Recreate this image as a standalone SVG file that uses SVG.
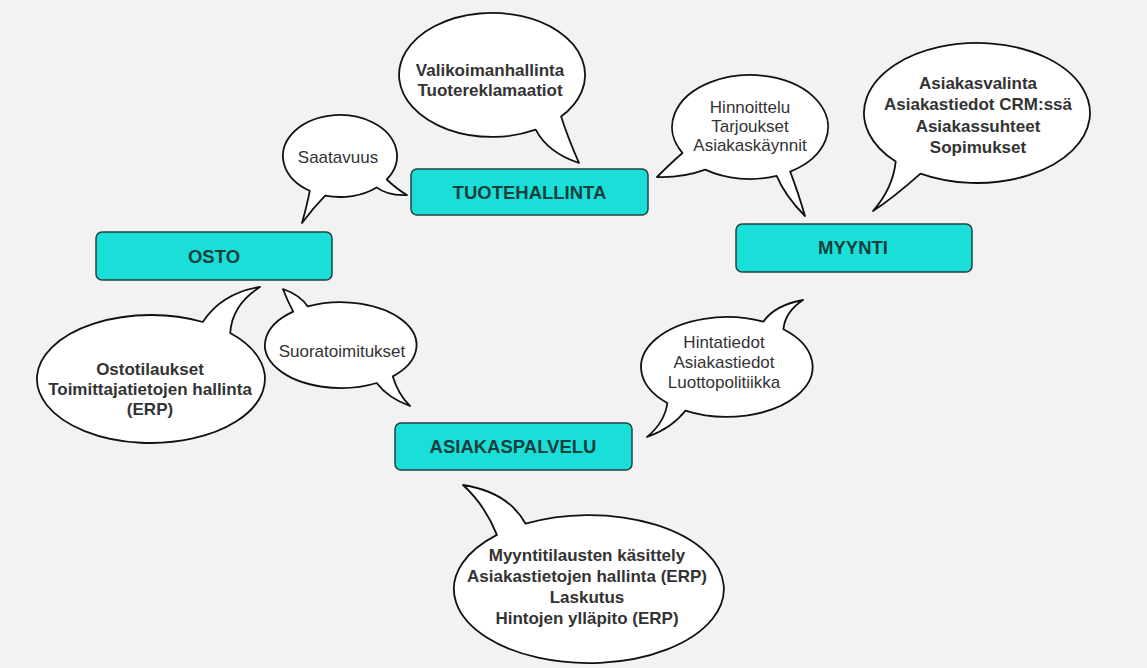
<svg xmlns="http://www.w3.org/2000/svg" width="1147" height="668" viewBox="0 0 1147 668">
<style>
.bg{fill:#f2f2f2}
.box{fill:#1adfd8;stroke:#234040;stroke-width:1.5}
.bt{font-family:"Liberation Sans",Arial,sans-serif;font-size:18.5px;font-weight:bold;fill:#163f3e;text-anchor:middle}
.bub{fill:#ffffff;stroke:#111111;stroke-width:1.8;stroke-linejoin:round}
.t{font-family:"Liberation Sans",Arial,sans-serif;font-size:17px;fill:#333333;text-anchor:middle}
.b{font-weight:bold}
</style>
<rect class="bg" x="0" y="0" width="1147" height="668"/>

<g id="bubble-valikoima">
<path class="bub" d="M561.1,116.5 Q568,138 579,163 Q548,153 535.7,129.7 A93,62 0 1 1 561.1,116.5 Z"/>
<text class="t b" x="490" y="76">Valikoimanhallinta</text>
<text class="t b" x="490" y="96">Tuotereklamaatiot</text>
</g>

<g id="bubble-hinnoittelu">
<path class="bub" d="M790.2,171.6 Q798,192 805,216 Q785,196 776.7,175.9 A78,52 0 0 1 705.3,169.6 Q682,178 657,177 Q672,162 682.5,153 A78,52 0 1 1 790.2,171.6 Z"/>
<text class="t" x="750" y="113">Hinnoittelu</text>
<text class="t" x="750" y="132">Tarjoukset</text>
<text class="t" x="750" y="151">Asiakaskäynnit</text>
</g>

<g id="bubble-asiakasvalinta">
<path class="bub" d="M920.5,173.6 Q893,198 873,211 Q893,188 895.7,161.6 A113,70 0 1 1 920.5,173.6 Z"/>
<text class="t b" x="978" y="89">Asiakasvalinta</text>
<text class="t b" x="978" y="110">Asiakastiedot CRM:ssä</text>
<text class="t b" x="978" y="132">Asiakassuhteet</text>
<text class="t b" x="978" y="153">Sopimukset</text>
</g>

<g id="bubble-saatavuus">
<path class="bub" d="M386.7,179.5 Q398,190 407,195 Q388,196 376.6,187.4 A57,41 0 0 1 325.2,195.6 Q313,208 302,223 Q307,205 309.8,190.8 A57,41 0 1 1 386.7,179.5 Z"/>
<text class="t" x="338" y="163">Saatavuus</text>
</g>

<g id="bubble-ostotilaukset">
<path class="bub" d="M202.8,322 Q222,293 260,287 Q232,305 230.2,333 A114,64 0 1 1 202.8,322 Z"/>
<text class="t b" x="150" y="375">Ostotilaukset</text>
<text class="t b" x="150" y="395">Toimittajatietojen hallinta</text>
<text class="t b" x="150" y="415">(ERP)</text>
</g>

<g id="bubble-suoratoimitukset">
<path class="bub" d="M293.2,311.6 Q287,300 283,289 Q300,295 307.7,306.4 A76,43 0 0 1 392.8,376.4 Q398,394 410,406 Q388,398 376.7,383 A76,43 0 0 1 293.2,311.6 Z"/>
<text class="t" x="342" y="357">Suoratoimitukset</text>
</g>

<g id="bubble-hintatiedot">
<path class="bub" d="M763.3,321.7 Q775,305 803,300 Q785,312 783.4,329.3 A86,50 0 0 1 685.3,410.7 Q672,428 647,437 Q665,422 667.3,403 A86,50 0 0 1 763.3,321.7 Z"/>
<text class="t" x="724" y="348">Hintatiedot</text>
<text class="t" x="724" y="368">Asiakastiedot</text>
<text class="t" x="724" y="388">Luottopolitiikka</text>
</g>

<g id="bubble-myyntitilaukset">
<path class="bub" d="M496.9,534.9 Q485,505 463,485 Q508,492 525.6,523.7 A135,74 0 1 1 496.9,534.9 Z"/>
<text class="t b" x="587" y="561">Myyntitilausten käsittely</text>
<text class="t b" x="587" y="582">Asiakastietojen hallinta (ERP)</text>
<text class="t b" x="587" y="603">Laskutus</text>
<text class="t b" x="587" y="624">Hintojen ylläpito (ERP)</text>
</g>

<g id="node-tuotehallinta">
<rect class="box" x="411" y="169" width="237" height="46" rx="6"/>
<text class="bt" x="529.5" y="199">TUOTEHALLINTA</text>
</g>

<g id="node-osto">
<rect class="box" x="96" y="232" width="236" height="48" rx="6"/>
<text class="bt" x="214" y="262.5">OSTO</text>
</g>

<g id="node-myynti">
<rect class="box" x="736" y="224" width="236" height="48" rx="6"/>
<text class="bt" x="853" y="254">MYYNTI</text>
</g>

<g id="node-asiakaspalvelu">
<rect class="box" x="395" y="423" width="237" height="47" rx="6"/>
<text class="bt" x="513" y="453">ASIAKASPALVELU</text>
</g>
</svg>
